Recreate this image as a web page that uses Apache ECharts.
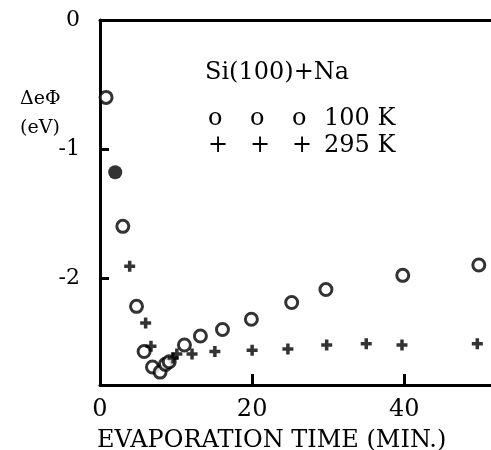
<!DOCTYPE html>
<html>
<head>
<meta charset="utf-8">
<script src="https://cdn.jsdelivr.net/npm/echarts@6/dist/echarts.min.js"></script>
<style>
  html, body { margin: 0; padding: 0; background: #fff; }
  #chart { width: 491px; height: 450px; }
</style>
</head>
<body>
<div id="chart"></div>
<script>
// 100 K runs (open circles)
const cold = [
  [0.8, -0.60], [3.0, -1.60], [4.8, -2.22], [5.8, -2.57], [6.9, -2.69],
  [7.9, -2.73], [8.6, -2.67], [9.1, -2.65], [11.1, -2.52], [13.2, -2.45],
  [16.1, -2.40], [19.9, -2.32], [25.2, -2.19], [29.7, -2.09], [39.8, -1.98],
  [49.8, -1.90]
]
// filled point
const coldFilled = [[2.0, -1.18]]
// 295 K runs (plus signs)
const warm = [
  [3.9, -1.91], [6.0, -2.35], [6.7, -2.53], [9.6, -2.62], [10.1, -2.59],
  [12.1, -2.59], [15.1, -2.57], [20.0, -2.56], [24.7, -2.55], [29.8, -2.52],
  [35.0, -2.51], [39.7, -2.52], [49.6, -2.51]
]
const xTicks = [0, 20, 40]
const yTicks = [0, -1, -2]

const font = 'DejaVu Serif'
const plus = 'path://M3.4,0H6.6V3.4H10V6.6H6.6V10H3.4V6.6H0V3.4H3.4Z'
const txt = { fontFamily: font, fontSize: 24, fontWeight: 'normal', color: '#000', lineHeight: 27 }

let chart = echarts.init(document.getElementById('chart'))
chart.setOption({
  animation: false,
  title: [
    { text: 'ΔeΦ\n(eV)', left: 15, top: 80,
      textStyle: { fontFamily: font, fontSize: 19, fontWeight: 'normal', color: '#000', lineHeight: 29 } },
    { text: 'Si(100)+Na', left: 200, top: 56,
      textStyle: { fontFamily: font, fontSize: 24, fontWeight: 'normal', color: '#000' } },
    { text: '{s|o}{s|o}{t|o}{k|100 K}\n{s|+}{s|+}{t|+}{k|295 K}', left: 203, top: 100,
      textStyle: {
        fontWeight: 'normal',
        lineHeight: 27,
        rich: {
          s: Object.assign({ width: 42 }, txt),
          t: Object.assign({ width: 32 }, txt),
          k: Object.assign({}, txt)
        }
      } },
    { text: 'EVAPORATION TIME (MIN.)', left: 92, top: 424,
      textStyle: { fontFamily: font, fontSize: 24, fontWeight: 'normal', color: '#000' } }
  ],
  grid: { left: 100, top: 20, right: 0, bottom: 65, outerBoundsMode: 'none' },
  xAxis: [
    {
      type: 'value', min: 0, max: 51.4,
      splitLine: { show: false },
      axisLine: { onZero: false, lineStyle: { color: '#000', width: 3 } },
      axisTick: { inside: true, length: 11, customValues: xTicks, lineStyle: { color: '#000', width: 3 } },
      axisLabel: { customValues: xTicks, margin: 13, color: '#000', fontFamily: font, fontSize: 24 }
    },
    {
      type: 'value', position: 'top', min: 0, max: 51.4,
      splitLine: { show: false },
      axisLine: { onZero: false, lineStyle: { color: '#000', width: 3 } },
      axisTick: { show: false }, axisLabel: { show: false }
    }
  ],
  yAxis: {
    type: 'value', min: -2.83, max: 0,
    splitLine: { show: false },
    axisLine: { onZero: false, lineStyle: { color: '#000', width: 3 } },
    axisTick: { inside: true, length: 9, customValues: yTicks, lineStyle: { color: '#000', width: 3 } },
    axisLabel: { customValues: yTicks, margin: 20, color: '#000', fontFamily: font, fontSize: 22 }
  },
  series: [
    {
      name: '100 K', type: 'scatter', data: cold,
      symbol: 'circle', symbolSize: 12,
      itemStyle: { color: '#fff', borderColor: '#000', borderWidth: 3 }
    },
    {
      name: '100 K filled', type: 'scatter', data: coldFilled,
      symbol: 'circle', symbolSize: 14,
      itemStyle: { color: '#000' }
    },
    {
      name: '295 K', type: 'scatter', data: warm,
      symbol: plus, symbolSize: 11,
      itemStyle: { color: '#000' }
    }
  ]
})
</script>
</body>
</html>
